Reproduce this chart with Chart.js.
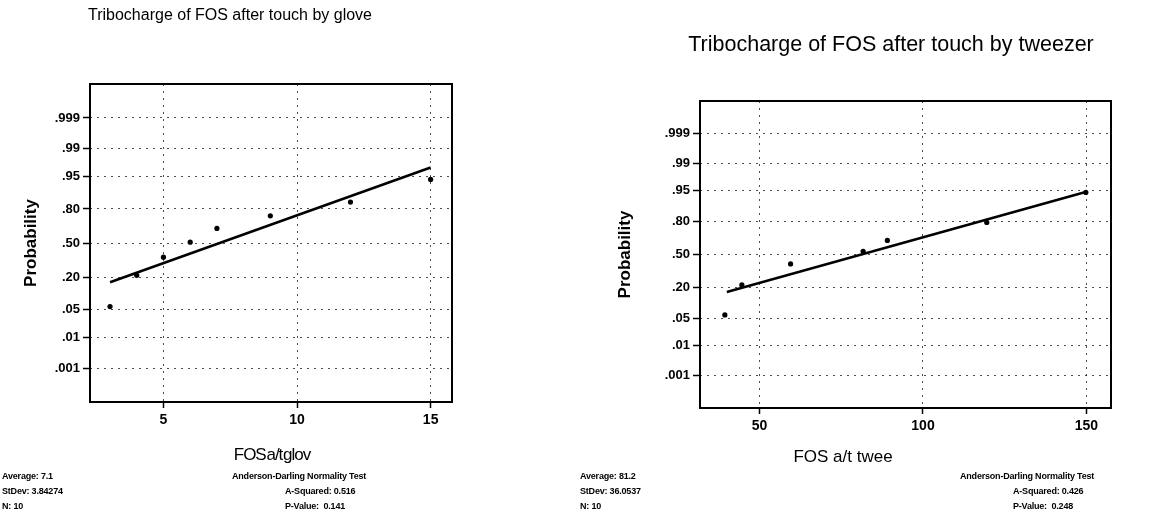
<!DOCTYPE html>
<html>
<head>
<meta charset="utf-8">
<script src="https://cdn.jsdelivr.net/npm/chart.js@4/dist/chart.umd.min.js"></script>
<style>
  html, body { margin: 0; padding: 0; background: #fff; overflow: hidden; }
  body { width: 1154px; height: 521px; position: relative; }
  canvas { position: absolute; top: 0; }
  .stat { position: absolute; font-family: "Liberation Sans", Arial, sans-serif; font-weight: bold;
          font-size: 9px; line-height: 15px; color: #000; white-space: nowrap; letter-spacing: -0.2px; }
  .xtitle { position: absolute; font-family: "Liberation Sans", Arial, sans-serif; font-size: 17px;
            line-height: 20px; color: #000; white-space: nowrap; transform: translateX(-50%); }
</style>
</head>
<body>
<canvas id="glove" width="460" height="521" style="left:0px"></canvas>
<canvas id="tweezer" width="602" height="521" style="left:590px"></canvas>

<div class="xtitle" style="left:272px; top:445px; letter-spacing:-1px; word-spacing:-3px;">FOS a/t glov</div>
<div class="xtitle" style="left:843px; top:447px;">FOS a/t twee</div>

<div class="stat" style="left:2px; top:469px;">Average: 7.1<br>StDev: 3.84274<br>N: 10</div>
<div class="stat" style="left:232px; top:469px;">Anderson-Darling Normality Test<br><span style="padding-left:53px">A-Squared: 0.516</span><br><span style="padding-left:53px">P-Value:&nbsp;&nbsp;0.141</span></div>
<div class="stat" style="left:580px; top:469px;">Average: 81.2<br>StDev: 36.0537<br>N: 10</div>
<div class="stat" style="left:960px; top:469px;">Anderson-Darling Normality Test<br><span style="padding-left:53px">A-Squared: 0.426</span><br><span style="padding-left:53px">P-Value:&nbsp;&nbsp;0.248</span></div>

<script>
// Probability axis: tick positions and their labels
const probTicks = [0.001, 0.01, 0.05, 0.20, 0.50, 0.80, 0.95, 0.99, 0.999];
const probLabels = ['.001', '.01', '.05', '.20', '.50', '.80', '.95', '.99', '.999'];

// Glove sample: observed values and their plotted probabilities
const gloveX = [3, 4, 5, 6, 7, 9, 12, 15];
const gloveProb = [0.058, 0.212, 0.363, 0.508, 0.641, 0.749, 0.844, 0.942];
const gloveFitX = [3, 15];
const gloveFitProb = [0.166, 0.969];
const gloveXTicks = [5, 10, 15];

// Tweezer sample
const tweezerX = [39.4, 44.6, 59.5, 81.7, 89.1, 119.5, 149.8];
const tweezerProb = [0.061, 0.218, 0.405, 0.532, 0.641, 0.794, 0.944];
const tweezerFitX = [40, 150];
const tweezerFitProb = [0.169, 0.946];
const tweezerXTicks = [50, 100, 150];

// Inverse standard normal CDF (Acklam), used for the normal-probability axis
function probit(p) {
  const a = [-3.969683028665376e+01, 2.209460984245205e+02, -2.759285104469687e+02, 1.383577518672690e+02, -3.066479806614716e+01, 2.506628277459239e+00];
  const b = [-5.447609879822406e+01, 1.615858368580409e+02, -1.556989798598866e+02, 6.680131188771972e+01, -1.328068155288572e+01];
  const c = [-7.784894002430293e-03, -3.223964580411365e-01, -2.400758277161838e+00, -2.549732539343734e+00, 4.374664141464968e+00, 2.938163982698783e+00];
  const d = [7.784695709041462e-03, 3.224671290700398e-01, 2.445134137142996e+00, 3.754408661907416e+00];
  const pl = 0.02425, ph = 1 - pl;
  let q, r;
  if (p < pl) {
    q = Math.sqrt(-2 * Math.log(p));
    return (((((c[0]*q+c[1])*q+c[2])*q+c[3])*q+c[4])*q+c[5]) / ((((d[0]*q+d[1])*q+d[2])*q+d[3])*q+1);
  }
  if (p <= ph) {
    q = p - 0.5; r = q * q;
    return (((((a[0]*r+a[1])*r+a[2])*r+a[3])*r+a[4])*r+a[5])*q / (((((b[0]*r+b[1])*r+b[2])*r+b[3])*r+b[4])*r+1);
  }
  q = Math.sqrt(-2 * Math.log(1 - p));
  return -(((((c[0]*q+c[1])*q+c[2])*q+c[3])*q+c[4])*q+c[5]) / ((((d[0]*q+d[1])*q+d[2])*q+d[3])*q+1);
}

const FONT = '"Liberation Sans", Arial, sans-serif';

// Solid frame round the plotting area
const framePlugin = {
  id: 'frame',
  afterDatasetsDraw(chart) {
    const { ctx, chartArea: a } = chart;
    ctx.save();
    ctx.strokeStyle = '#000';
    ctx.lineWidth = 2;
    ctx.setLineDash([]);
    ctx.strokeRect(a.left, a.top, a.right - a.left, a.bottom - a.top);
    ctx.restore();
  }
};

function probPlot(id, o) {
  const pts = o.x.map((v, i) => ({ x: v, y: probit(o.prob[i]) }));
  const fit = o.fitX.map((v, i) => ({ x: v, y: probit(o.fitProb[i]) }));
  return new Chart(document.getElementById(id), {
    type: 'scatter',
    data: {
      datasets: [
        { data: fit, showLine: true, borderColor: '#000', borderWidth: 2.5, pointRadius: 0, order: 2 },
        { data: pts, showLine: false, backgroundColor: '#000', borderWidth: 0, pointRadius: 2.6, order: 1 }
      ]
    },
    options: {
      responsive: false,
      animation: false,
      events: [],
      layout: { padding: 0 },
      plugins: {
        legend: { display: false },
        tooltip: { enabled: false },
        title: {
          display: true, text: o.title, color: '#000',
          font: { family: FONT, size: o.titleSize, weight: 'normal' },
          padding: { top: o.titleTop, bottom: o.titleBottom }
        }
      },
      scales: {
        x: {
          type: 'linear', position: 'bottom', min: o.xMin, max: o.xMax,
          afterBuildTicks: s => { s.ticks = o.xTicks.map(v => ({ value: v })); },
          afterFit: s => { s.height = o.xAxisHeight; },
          grid: { color: 'rgba(0,0,0,0.7)', lineWidth: 1, tickLength: 6, tickColor: '#000', tickWidth: 1.5, tickBorderDash: [] },
          border: { display: false, dash: [2, 5] },
          ticks: { color: '#000', padding: 4, font: { family: FONT, size: 14, weight: 'bold' } }
        },
        y: {
          type: 'linear', position: 'left', min: -3.93, max: 3.93,
          afterBuildTicks: s => { s.ticks = probTicks.map(p => ({ value: probit(p) })); },
          afterFit: s => { s.width = o.yAxisWidth; },
          grid: { color: 'rgba(0,0,0,0.7)', lineWidth: 1, tickLength: 7, tickColor: '#000', tickWidth: 1.5, tickBorderDash: [] },
          border: { display: false, dash: [2, 5] },
          ticks: { color: '#000', padding: 3, font: { family: FONT, size: 13, weight: 'bold' },
                   callback: (v, i) => probLabels[i] },
          title: { display: true, text: 'Probability', color: '#000', font: { family: FONT, size: 17, weight: 'bold' }, padding: { top: o.yTitleLeft, bottom: 0 } }
        },
        spacer: {
          type: 'linear', position: 'right', display: true,
          afterFit: s => { s.width = o.rightSpace; },
          grid: { display: false }, border: { display: false }, ticks: { display: false }
        }
      }
    },
    plugins: [framePlugin]
  });
}

probPlot('glove', {
  x: gloveX, prob: gloveProb, fitX: gloveFitX, fitProb: gloveFitProb, xTicks: gloveXTicks,
  xMin: 2.25, xMax: 15.8, title: 'Tribocharge of FOS after touch by glove', titleSize: 16,
  titleTop: 6.4, titleBottom: 58.4, xAxisHeight: 119, yAxisWidth: 90, rightSpace: 8,
  yTitleLeft: 21.5
});

probPlot('tweezer', {
  x: tweezerX, prob: tweezerProb, fitX: tweezerFitX, fitProb: tweezerFitProb, xTicks: tweezerXTicks,
  xMin: 31.8, xMax: 157.5, title: 'Tribocharge of FOS after touch by tweezer', titleSize: 21.5,
  titleTop: 32.1, titleBottom: 43.1, xAxisHeight: 113, yAxisWidth: 110, rightSpace: 81,
  yTitleLeft: 24.8
});
</script>
</body>
</html>
